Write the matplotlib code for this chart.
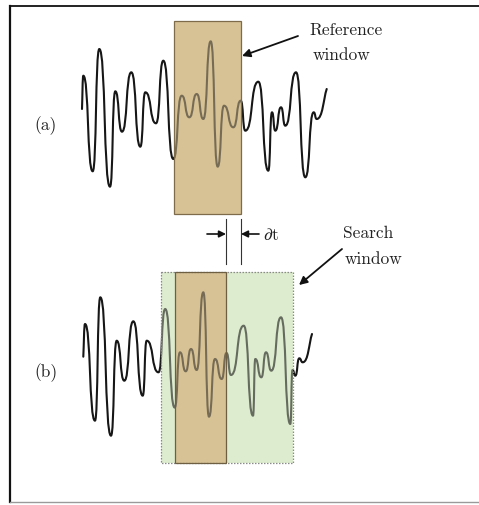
import matplotlib.pyplot as plt
from matplotlib.path import Path
from matplotlib.patches import PathPatch, Rectangle

plt.rcParams['mathtext.fontset'] = 'cm'

# trace extrema, in figure pixels (y grows downward)
wave_a_x = [82, 83.3, 92.7, 99.3, 110, 115.3, 122, 131.3, 140.3, 145.3, 156, 163.3,
            173.3, 181.7, 189.3, 196.7, 203.3, 210.7, 217.7, 224, 233.3, 240.7, 245.3,
            258.3, 268.3, 272, 275.3, 281, 285.3, 296, 305.3, 313.7, 316.7, 326.7]
wave_a_y = [110, 76.7, 172.3, 50, 187.7, 92.3, 132.7, 73.3, 147.7, 93.3, 124.3, 61.7,
            160, 96.7, 118.3, 95, 120, 42.3, 167.7, 106.7, 128.3, 101.7, 131.7,
            82.7, 171.7, 113.3, 131.7, 108.3, 126.7, 73.3, 178.3, 113.3, 120, 90]

wave_b_x = [83.3, 85, 95, 100.3, 111, 116.7, 124.3, 133.3, 142.7, 146.7, 158.5, 165.2,
            174.7, 180, 185.7, 191, 196.7, 203.3, 209, 215, 221.7, 226.5, 231, 243.7,
            253, 255.3, 261.3, 266, 271.3, 281, 290.3, 292.5, 295.3, 299.3, 302.7, 312]
wave_b_y = [357.7, 325, 421.7, 298.3, 436.7, 341.7, 381.7, 322.3, 396.7, 341.7, 373.3, 310,
            408.6, 353.3, 372.3, 350, 371, 293.3, 417.7, 360, 380, 354, 376, 326.7,
            416.7, 360, 378.3, 353.3, 371.7, 318.3, 425, 371, 376.7, 359.3, 363.3, 335]

# windows: (left, right, top, bottom)
ref_window_a = (174, 241, 22, 215)
ref_window_b = (175, 226, 273, 464)
search_window = (161, 293, 273, 464)

TAN = '#d7c295'
GREEN = '#ddecce'


def wiggle(xs, ys, k=0.6):
    # smooth curve through extrema, flat tangent at each turning point
    verts = [(xs[0], ys[0])]
    codes = [Path.MOVETO]
    n = len(xs)
    for i in range(n - 1):
        x0, y0, x1, y1 = xs[i], ys[i], xs[i + 1], ys[i + 1]
        dx = x1 - x0
        if i == 0:
            c1 = (x0 + dx / 3, y0 + (y1 - y0) / 3)
        else:
            c1 = (x0 + k * dx, y0)
        if i == n - 2:
            c2 = (x1 - dx / 3, y1 - (y1 - y0) / 3)
        else:
            c2 = (x1 - k * dx, y1)
        verts += [c1, c2, (x1, y1)]
        codes += [Path.CURVE4] * 3
    return PathPatch(Path(verts, codes), fill=False, lw=1.5, color='#161616',
                     capstyle='round', joinstyle='round', zorder=3)


def fill(ax, x0, x1, y0, y1, face, alpha=1.0, z=2):
    ax.add_patch(Rectangle((x0, y0), x1 - x0, y1 - y0, facecolor=face, alpha=alpha,
                           edgecolor='none', zorder=z))


def outline(ax, w, edge, ls='-', z=5):
    x0, x1, y0, y1 = w
    ax.add_patch(Rectangle((x0, y0), x1 - x0, y1 - y0, fill=False, edgecolor=edge,
                           lw=0.9, ls=ls, zorder=z))


fig = plt.figure(figsize=(4.79, 5.06), dpi=100)
ax = fig.add_axes([0, 0, 1, 1])
ax.set_xlim(0, 479)
ax.set_ylim(506, 0)
ax.axis('off')

# outer frame
ax.plot([10.5, 479], [7, 7], color='#111111', lw=1.3, zorder=1)
ax.plot([10.5, 10.5], [7, 503], color='#111111', lw=1.6, zorder=1)
ax.plot([10.5, 479], [502.5, 502.5], color='#9a9a9a', lw=1.0, zorder=1)

# (a) reference trace: solid fill below, tinted overlay above the trace
xa0, xa1, ya0, ya1 = ref_window_a
ax.add_patch(wiggle(wave_a_x, wave_a_y))
fill(ax, xa0, xa1, ya0, ya1, TAN)
fill(ax, xa0, xa1, ya0, ya1, TAN, alpha=0.5, z=4)
outline(ax, ref_window_a, '#7d6b4a')

# (b) shifted trace with search window
xs0, xs1, ys0, ys1 = search_window
xb0, xb1 = ref_window_b[:2]
ax.add_patch(wiggle(wave_b_x, wave_b_y))
fill(ax, xs0, xs1, ys0, ys1, GREEN)
fill(ax, xb0, xb1, ys0, ys1, TAN, z=2.1)
fill(ax, xs0, xb0, ys0, ys1, GREEN, alpha=0.4, z=4)
fill(ax, xb1, xs1, ys0, ys1, GREEN, alpha=0.4, z=4)
fill(ax, xb0, xb1, ys0, ys1, TAN, alpha=0.5, z=4)
outline(ax, search_window, '#8a8a8a', ls=(0, (1.2, 1.2)))
outline(ax, ref_window_b, '#6e5f42', z=5.1)

font = dict(family='cmr10', fontsize=12.5, color='#222222')
ax.text(46, 126, '(a)', ha='center', va='center', **font)
ax.text(46, 373, '(b)', ha='center', va='center', **font)

ax.text(346, 30, 'Reference', ha='center', va='center', **font)
ax.text(342, 55, 'window', ha='center', va='center', **font)
ax.annotate('', xy=(242, 57), xytext=(298, 37),
            arrowprops=dict(arrowstyle='-|>', color='#111111', lw=1.3,
                            mutation_scale=12, shrinkA=0, shrinkB=0))

ax.text(368, 233, 'Search', ha='center', va='center', **font)
ax.text(374, 259, 'window', ha='center', va='center', **font)
ax.annotate('', xy=(299, 286), xytext=(342, 250),
            arrowprops=dict(arrowstyle='-|>', color='#111111', lw=1.3,
                            mutation_scale=12, shrinkA=0, shrinkB=0))

# shift marker between the two windows
dt_left, dt_right = ref_window_b[1], ref_window_a[1]
ax.plot([dt_left, dt_left], [220, 265], color='#333333', lw=0.8)
ax.plot([dt_right, dt_right], [220, 265], color='#333333', lw=0.8)
ax.annotate('', xy=(dt_left, 235), xytext=(207, 235),
            arrowprops=dict(arrowstyle='-|>', color='#111111', lw=1.2,
                            mutation_scale=10, shrinkA=0, shrinkB=0))
ax.annotate('', xy=(dt_right, 235), xytext=(259, 235),
            arrowprops=dict(arrowstyle='-|>', color='#111111', lw=1.2,
                            mutation_scale=10, shrinkA=0, shrinkB=0))
ax.text(263, 235, r'$\partial\mathrm{t}$', ha='left', va='center', fontsize=12.5,
        color='#222222')

fig.savefig('out.png', dpi=100, facecolor='white')
